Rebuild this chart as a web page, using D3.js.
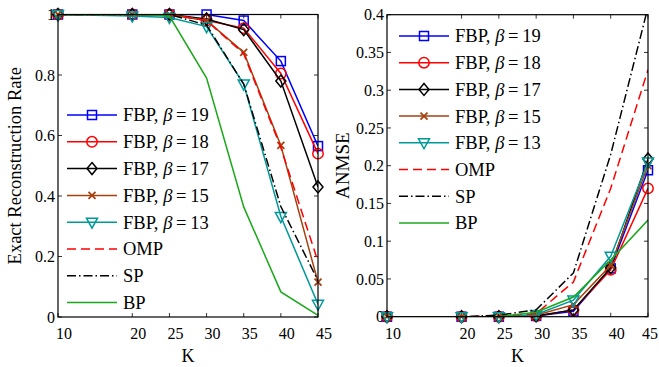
<!DOCTYPE html>
<html>
<head>
<meta charset="utf-8">
<script src="https://cdn.jsdelivr.net/npm/d3@7"></script>
<style>
  body { margin: 0; background: #fff; }
  svg { display: block; font-family: "Liberation Serif", "DejaVu Serif", serif; }
</style>
</head>
<body>
<svg id="chart" width="659" height="367"></svg>
<script>
// x positions (sparsity level K)
const K = [10, 20, 25, 30, 35, 40, 45];
const xTicks = [10, 20, 25, 30, 35, 40, 45];

// left panel: exact reconstruction rate
const rateFbp19 = [1, 1, 1, 1, 0.98, 0.846, 0.565];
const rateFbp18 = [1, 1, 1, 0.98, 0.955, 0.805, 0.54];
const rateFbp17 = [1, 1, 1, 0.985, 0.95, 0.78, 0.43];
const rateFbp15 = [1, 1, 1, 0.98, 0.875, 0.567, 0.115];
const rateFbp13 = [1, 0.995, 0.99, 0.96, 0.77, 0.332, 0.042];
const rateOmp = [1, 1, 1, 0.98, 0.87, 0.56, 0.183];
const rateSp = [1, 1, 1, 0.965, 0.77, 0.365, 0.12];
const rateBp = [1, 1, 0.995, 0.79, 0.364, 0.083, 0.005];
const rateTicks = [0, 0.2, 0.4, 0.6, 0.8, 1];

// right panel: ANMSE
const errFbp19 = [0, 0, 0, 0.001, 0.007, 0.064, 0.194];
const errFbp18 = [0, 0, 0, 0.001, 0.009, 0.062, 0.17];
const errFbp17 = [0, 0, 0, 0.001, 0.009, 0.065, 0.209];
const errFbp15 = [0, 0, 0, 0.002, 0.016, 0.068, 0.2];
const errFbp13 = [0, 0, 0, 0.003, 0.022, 0.08, 0.205];
const errOmp = [0, 0, 0.001, 0.004, 0.046, 0.17, 0.327];
const errSp = [0, 0, 0.002, 0.009, 0.058, 0.215, 0.41];
const errBp = [0, 0, 0, 0.006, 0.026, 0.075, 0.128];
const errTicks = [0, 0.05, 0.1, 0.15, 0.2, 0.25, 0.3, 0.35, 0.4];

const seriesNames = ["FBP19", "FBP18", "FBP17", "FBP15", "FBP13", "OMP", "SP", "BP"];

// style per series
const styles = {
  FBP19: {color: "#0000ff", marker: "square", dash: null, label: ["FBP, ", "β", "\u2009=\u200919"]},
  FBP18: {color: "#ff0000", marker: "circle", dash: null, label: ["FBP, ", "β", "\u2009=\u200918"]},
  FBP17: {color: "#000000", marker: "diamond", dash: null, label: ["FBP, ", "β", "\u2009=\u200917"]},
  FBP15: {color: "#a5420f", marker: "x", dash: null, label: ["FBP, ", "β", "\u2009=\u200915"]},
  FBP13: {color: "#00999a", marker: "tri", dash: null, label: ["FBP, ", "β", "\u2009=\u200913"]},
  OMP:   {color: "#ff0000", marker: null, dash: "9,5", label: ["OMP"]},
  SP:    {color: "#000000", marker: null, dash: "9,3,1.5,3", label: ["SP"]},
  BP:    {color: "#1aa81a", marker: null, dash: null, label: ["BP"]}
};

const svg = d3.select("#chart");

function drawMarker(g, type, x, y, color) {
  if (type === "square") {
    g.append("rect").attr("x", x - 4.5).attr("y", y - 4.5).attr("width", 9).attr("height", 9)
      .attr("fill", "none").attr("stroke", color).attr("stroke-width", 1.5);
  } else if (type === "circle") {
    g.append("circle").attr("cx", x).attr("cy", y).attr("r", 5.2)
      .attr("fill", "none").attr("stroke", color).attr("stroke-width", 1.5);
  } else if (type === "diamond") {
    g.append("path").attr("d", `M${x},${y - 6}L${x + 5},${y}L${x},${y + 6}L${x - 5},${y}Z`)
      .attr("fill", "none").attr("stroke", color).attr("stroke-width", 1.5);
  } else if (type === "x") {
    g.append("path").attr("d", `M${x - 3.5},${y - 3.5}L${x + 3.5},${y + 3.5}M${x - 3.5},${y + 3.5}L${x + 3.5},${y - 3.5}`)
      .attr("fill", "none").attr("stroke", color).attr("stroke-width", 1.8);
  } else if (type === "tri") {
    g.append("path").attr("d", `M${x - 5.5},${y - 4}L${x + 5.5},${y - 4}L${x},${y + 6}Z`)
      .attr("fill", "none").attr("stroke", color).attr("stroke-width", 1.5);
  }
}

function drawPanel(opts) {
  const {id, left, right, top, bottom, yMax, yTicks, data, yLabel, yLabelX, yLabelSize, legend} = opts;
  const x = d3.scaleLinear().domain([10, 45]).range([left, right]);
  const y = d3.scaleLinear().domain([0, yMax]).range([bottom, top]);
  const g = svg.append("g");

  g.append("clipPath").attr("id", "clip" + id)
    .append("rect").attr("x", left).attr("y", top).attr("width", right - left).attr("height", bottom - top);

  // inward ticks on all sides
  const tickLen = 4;
  const ticks = g.append("g").attr("stroke", "#000").attr("stroke-width", 0.8);
  xTicks.forEach(t => {
    ticks.append("line").attr("x1", x(t)).attr("x2", x(t)).attr("y1", bottom).attr("y2", bottom - tickLen);
    ticks.append("line").attr("x1", x(t)).attr("x2", x(t)).attr("y1", top).attr("y2", top + tickLen);
  });
  yTicks.forEach(t => {
    ticks.append("line").attr("x1", left).attr("x2", left + tickLen).attr("y1", y(t)).attr("y2", y(t));
    ticks.append("line").attr("x1", right).attr("x2", right - tickLen).attr("y1", y(t)).attr("y2", y(t));
  });

  // tick labels
  g.append("g").selectAll("text").data(xTicks).enter().append("text")
    .attr("x", d => Math.min(x(d) + 6, 650)).attr("y", bottom + 22)
    .attr("text-anchor", "middle").attr("font-size", 16).text(d => d);
  g.append("g").selectAll("text").data(yTicks).enter().append("text")
    .attr("x", left - 3).attr("y", d => y(d)).attr("dy", "0.35em")
    .attr("text-anchor", "end").attr("font-size", 16).text(d => d3.format("~g")(d));

  // axis labels
  g.append("text").attr("x", (left + right) / 2).attr("y", bottom + 45)
    .attr("text-anchor", "middle").attr("font-size", 18).text("K");
  g.append("text").attr("transform", `translate(${yLabelX},${(top + bottom) / 2}) rotate(-90)`)
    .attr("text-anchor", "middle").attr("font-size", yLabelSize).text(yLabel);

  // curves
  const line = d3.line().x((d, i) => x(K[i])).y(d => y(d));
  seriesNames.forEach(name => {
    const s = styles[name];
    const vals = data[name];
    g.append("path").attr("d", line(vals)).attr("fill", "none")
      .attr("stroke", s.color).attr("stroke-width", 1.5)
      .attr("stroke-dasharray", s.dash).attr("clip-path", `url(#clip${id})`);
    if (s.marker) {
      const mg = g.append("g");
      vals.forEach((v, i) => drawMarker(mg, s.marker, x(K[i]), y(v), s.color));
    }
  });

  // box
  g.append("rect").attr("x", left).attr("y", top).attr("width", right - left).attr("height", bottom - top)
    .attr("fill", "none").attr("stroke", "#000").attr("stroke-width", 1.2);

  // legend (no frame)
  const lg = g.append("g");
  seriesNames.forEach((name, i) => {
    const s = styles[name];
    const ly = legend.y0 + i * legend.dy;
    lg.append("line").attr("x1", legend.x0).attr("x2", legend.x0 + 50).attr("y1", ly).attr("y2", ly)
      .attr("stroke", s.color).attr("stroke-width", 1.5).attr("stroke-dasharray", s.dash);
    if (s.marker) drawMarker(lg, s.marker, legend.x0 + 25, ly, s.color);
    const t = lg.append("text").attr("x", legend.x0 + 56).attr("y", ly).attr("dy", "0.35em")
      .attr("font-size", 18.5);
    s.label.forEach(part => {
      const ts = t.append("tspan").text(part);
      if (part === "β") ts.attr("font-style", "italic");
    });
  });
}

drawPanel({
  id: "L", left: 58, right: 318, top: 14.5, bottom: 317, yMax: 1, yTicks: rateTicks,
  data: {FBP19: rateFbp19, FBP18: rateFbp18, FBP17: rateFbp17, FBP15: rateFbp15, FBP13: rateFbp13,
         OMP: rateOmp, SP: rateSp, BP: rateBp},
  yLabel: "Exact Reconstruction Rate", yLabelX: 21, yLabelSize: 18.5,
  legend: {x0: 67, y0: 115, dy: 26.8}
});

drawPanel({
  id: "R", left: 387, right: 648, top: 14.7, bottom: 316.7, yMax: 0.4, yTicks: errTicks,
  data: {FBP19: errFbp19, FBP18: errFbp18, FBP17: errFbp17, FBP15: errFbp15, FBP13: errFbp13,
         OMP: errOmp, SP: errSp, BP: errBp},
  yLabel: "ANMSE", yLabelX: 349, yLabelSize: 19,
  legend: {x0: 399, y0: 36, dy: 26.7}
});
</script>
</body>
</html>
